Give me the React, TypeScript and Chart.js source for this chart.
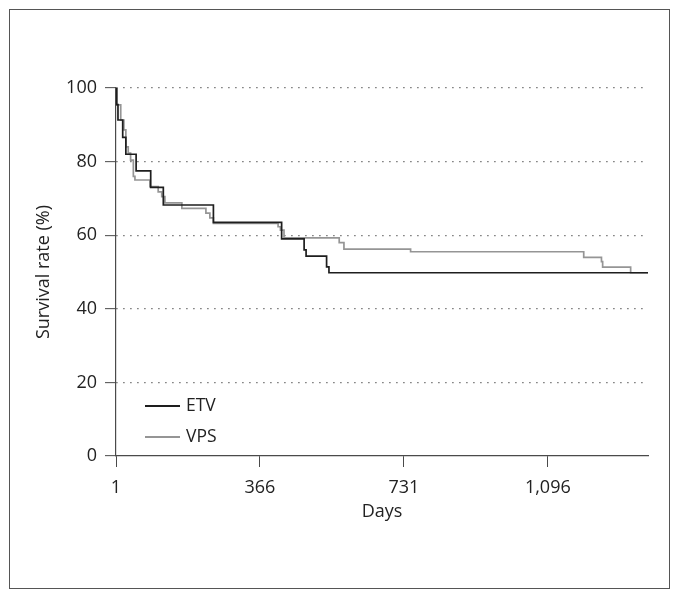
import React, { useEffect, useRef } from "react";
import { Chart, registerables } from "chart.js";

Chart.register(...registerables);

// Kaplan-Meier curves: day of each step and survival (%) from that day on
const etvDays = [1, 3, 6, 18, 26, 52, 89, 121, 248, 421, 478, 483, 535, 541, 1350];
const etvSurvival = [100, 95.5, 91.3, 86.6, 82, 77.5, 73, 68.2, 63.5, 59, 56, 54.3, 51.4, 49.8, 49.8];

const vpsDays = [1, 2, 13, 21, 26, 32, 38, 45, 49, 87, 108, 117, 125, 168, 229, 239, 248, 412, 418, 427, 567, 579, 748, 1187, 1232, 1235, 1306, 1350];
const vpsSurvival = [100, 95.4, 91.3, 88.6, 84, 82.3, 80.4, 76, 75, 73.2, 71.8, 70.5, 68.8, 67.3, 66, 64.7, 63.2, 62.3, 61.4, 59.3, 58, 56.2, 55.5, 54, 52.8, 51.3, 49.8, 49.8];

const seriesLabels = ["ETV", "VPS"];
const seriesColors = ["#1e1e1e", "#959595"];

const xTicks = [1, 366, 731, 1096];
const yTicks = [0, 20, 40, 60, 80, 100];
const xTitle = "Days";
const yTitle = "Survival rate (%)";

const FONT = "'Open Sans', 'DejaVu Sans', sans-serif";
const AXIS = "#4a4a4a";
const TEXT = "#222";

const legendPlugin = {
  id: "kmLegend",
  afterDraw(chart: any) {
    const { ctx, chartArea } = chart;
    ctx.save();
    chart.data.datasets.forEach((ds: any, i: number) => {
      const y = chartArea.bottom - 50 + i * 31;
      ctx.strokeStyle = ds.borderColor;
      ctx.lineWidth = 1.8;
      ctx.beginPath();
      ctx.moveTo(chartArea.left + 29, y);
      ctx.lineTo(chartArea.left + 64, y);
      ctx.stroke();
      ctx.fillStyle = TEXT;
      ctx.font = `17.5px ${FONT}`;
      ctx.textBaseline = "middle";
      ctx.textAlign = "left";
      ctx.fillText(ds.label, chartArea.left + 70, y);
    });
    ctx.restore();
  },
};

export default function App() {
  const ref = useRef<HTMLCanvasElement | null>(null);

  useEffect(() => {
    if (!ref.current) return;
    const mk = (days: number[], vals: number[]) => days.map((d, i) => ({ x: d, y: vals[i] }));
    const chart = new Chart(ref.current, {
      type: "line",
      data: {
        datasets: [
          {
            label: seriesLabels[0],
            data: mk(etvDays, etvSurvival),
            borderColor: seriesColors[0],
            borderWidth: 1.7,
            stepped: "before",
            pointRadius: 0,
            fill: false,
          },
          {
            label: seriesLabels[1],
            data: mk(vpsDays, vpsSurvival),
            borderColor: seriesColors[1],
            borderWidth: 1.7,
            stepped: "before",
            pointRadius: 0,
            fill: false,
          },
        ],
      },
      options: {
        animation: false,
        responsive: false,
        maintainAspectRatio: false,
        layout: { padding: { left: 0, right: 21, top: 78, bottom: 52 } },
        plugins: { legend: { display: false }, tooltip: { enabled: false } },
        scales: {
          x: {
            type: "linear",
            min: 1,
            max: 1350,
            afterFit: (s: any) => {
              s.height = 80;
            },
            afterBuildTicks: (s: any) => {
              s.ticks = xTicks.map((v) => ({ value: v }));
            },
            grid: {
              drawOnChartArea: false,
              drawTicks: true,
              tickLength: 11,
              tickColor: AXIS,
              tickWidth: 1,
              color: AXIS,
            },
            border: { display: true, color: AXIS, width: 1.2 },
            ticks: {
              padding: 10,
              color: TEXT,
              font: { family: FONT, size: 18 },
              maxRotation: 0,
              callback: (v: any) => Number(v).toLocaleString("en-US"),
            },
            title: {
              display: true,
              text: xTitle,
              color: TEXT,
              font: { family: FONT, size: 18 },
              padding: { top: 0, bottom: 13 },
            },
          },
          y: {
            min: 0,
            max: 100,
            afterFit: (s: any) => {
              s.width = 106;
            },
            afterBuildTicks: (s: any) => {
              s.ticks = yTicks.map((v) => ({ value: v }));
            },
            grid: {
              drawOnChartArea: true,
              drawTicks: true,
              tickLength: 11,
              tickColor: AXIS,
              tickWidth: 1,
              tickBorderDash: [],
              lineWidth: 1.3,
              color: (c: any) => (c.tick && c.tick.value === 0 ? "rgba(0,0,0,0)" : "#6a6a6a"),
            },
            border: { display: true, color: AXIS, width: 1.2, dash: [1.4, 5.6] },
            ticks: {
              padding: 8,
              color: TEXT,
              font: { family: FONT, size: 18 },
            },
            title: {
              display: true,
              text: yTitle,
              color: TEXT,
              font: { family: FONT, size: 18 },
              padding: { top: 23, bottom: 0 },
            },
          },
        },
      },
      plugins: [legendPlugin],
    } as any);
    return () => chart.destroy();
  }, []);

  return (
    <div
      style={{
        width: 659,
        height: 578,
        border: "1px solid #555",
        marginLeft: 1,
        marginTop: 1,
        background: "#fff",
      }}
    >
      <canvas ref={ref} width={659} height={578} style={{ display: "block", width: 659, height: 578 }} />
    </div>
  );
}
